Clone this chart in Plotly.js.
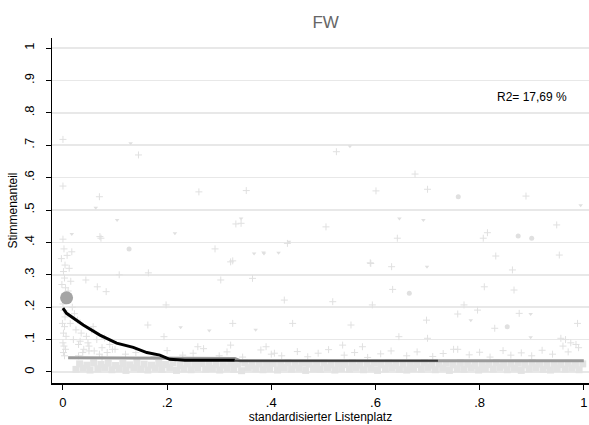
<!DOCTYPE html>
<html><head><meta charset="utf-8">
<script src="https://cdn.plot.ly/plotly-3.0.1.min.js"></script>
<style>html,body{margin:0;padding:0;background:#fff}#chart{width:589px;height:425px}</style>
</head><body><div id="chart"></div>
<script>
// ---- data ----
const yTickVals = [0,0.1,0.2,0.3,0.4,0.5,0.6,0.7,0.8,0.9,1];
const yTickText = ['0','.1','.2','.3','.4','.5','.6','.7','.8','.9','1'];
const xTickVals = [0,0.2,0.4,0.6,0.8,1];
const xTickText = ['0','.2','.4','.6','.8','1'];

const crossX = [0.0,0.145,0.0,0.07,0.261,0.352,0.332,0.073,0.292,0.326,0.108,0.164,0.017,0.525,0.676,0.7,0.601,0.889,0.505,0.642,0.807,0.815,0.948,0.831,0.953,0.59,0.631,0.863,0.071,0.342,0.322,0.431,0.066,0.083,0.044,0.198,0.163,0.326,0.303,0.364,0.425,0.441,0.194,0.259,0.322,0.39,0.406,0.591,0.633,0.518,0.594,0.809,0.866,0.77,0.796,0.758,0.876,0.988,0.553,0.698,0.829,0.645,0.7,0.956,0.537,0.575,0.758];
const crossY = [0.718,0.67,0.574,0.541,0.556,0.56,0.457,0.413,0.38,0.343,0.3,0.306,0.371,0.68,0.611,0.564,0.559,0.543,0.448,0.413,0.413,0.43,0.454,0.358,0.361,0.337,0.325,0.315,0.418,0.459,0.34,0.397,0.263,0.248,0.284,0.207,0.145,0.15,0.284,0.289,0.222,0.15,0.109,0.078,0.083,0.078,0.058,0.335,0.255,0.217,0.207,0.263,0.253,0.207,0.191,0.179,0.181,0.15,0.145,0.16,0.135,0.109,0.104,0.104,0.083,0.078,0.07];

const triX = [0.13,0.063,0.104,0.342,0.017,0.215,0.434,0.385,0.414,0.551,0.994,0.646,0.692,0.699,0.367,0.386,0.281,0.37,0.226,0.898,0.898,0.783];
const triY = [0.706,0.507,0.469,0.474,0.426,0.428,0.402,0.369,0.368,0.697,0.515,0.474,0.469,0.325,0.366,0.366,0.128,0.13,0.138,0.179,0.107,0.16];

const dotX = [0.759,0.874,0.665,0.127,0.9,0.853];
const dotY = [0.541,0.42,0.243,0.38,0.413,0.14];

const clusterX = [0.0,0.002,-0.003,0.004,0.001,0.003,-0.002,0.005,0.0,0.002,0.004,-0.001,0.003,0.001,0.006,0.0,0.002,0.005,0.001,0.003,0.008,0.012,0.015,0.01,0.018,0.022,0.014,0.025,0.02,0.03,0.028,0.035,0.04,0.033,0.045,0.05,0.038,0.055,0.06,0.048,0.065,0.07,0.075,0.058,0.085,0.09,0.08,0.095];
const clusterY = [0.41,0.38,0.35,0.33,0.31,0.29,0.27,0.26,0.21,0.19,0.17,0.15,0.14,0.12,0.11,0.09,0.08,0.07,0.06,0.05,0.36,0.32,0.28,0.25,0.2,0.18,0.15,0.13,0.1,0.085,0.16,0.12,0.07,0.095,0.11,0.08,0.06,0.13,0.065,0.09,0.1,0.055,0.075,0.14,0.06,0.085,0.105,0.07];

const bandAX = [0.025,0.039,0.052,0.067,0.08,0.094,0.108,0.121,0.136,0.149,0.163,0.177,0.19,0.205,0.218,0.232,0.246,0.259,0.274,0.287,0.301,0.315,0.328,0.343,0.356,0.37,0.384,0.397,0.412,0.425,0.439,0.453,0.466,0.481,0.494,0.508,0.522,0.535,0.55,0.563,0.577,0.591,0.604,0.619,0.632,0.646,0.66,0.673,0.688,0.701,0.715,0.729,0.742,0.757,0.77,0.784,0.798,0.811,0.826,0.839,0.853,0.867,0.88,0.895,0.908,0.922,0.936,0.949,0.964,0.977,0.991];
const bandAY = [0.008,0.012,0.006,0.01,0.014,0.007,0.011,0.005,0.013,0.009,0.006,0.012,0.008,0.014,0.005,0.01,0.007,0.013,0.009,0.011,0.006,0.012,0.008,0.004,0.013,0.01,0.007,0.011,0.006,0.014,0.009,0.012,0.005,0.01,0.008,0.013,0.006,0.011,0.009,0.014,0.007,0.012,0.005,0.01,0.013,0.008,0.006,0.011,0.009,0.014,0.007,0.012,0.005,0.01,0.008,0.013,0.006,0.011,0.009,0.014,0.007,0.012,0.005,0.01,0.013,0.008,0.006,0.011,0.009,0.012,0.007];
const bandBX = [0.032,0.046,0.059,0.073,0.087,0.101,0.115,0.128,0.142,0.156,0.17,0.184,0.197,0.211,0.225,0.239,0.253,0.266,0.28,0.294,0.308,0.322,0.335,0.349,0.363,0.377,0.391,0.404,0.418,0.432,0.446,0.46,0.473,0.487,0.501,0.515,0.529,0.542,0.556,0.57,0.584,0.598,0.611,0.625,0.639,0.653,0.667,0.68,0.694,0.708,0.722,0.736,0.749,0.763,0.777,0.791,0.805,0.818,0.832,0.846,0.86,0.874,0.887,0.901,0.915,0.929,0.943,0.956,0.97,0.984,0.998];
const bandBY = [0.025,0.021,0.028,0.023,0.027,0.02,0.026,0.022,0.029,0.024,0.021,0.027,0.023,0.028,0.02,0.025,0.022,0.026,0.029,0.023,0.021,0.027,0.024,0.028,0.02,0.025,0.022,0.026,0.023,0.029,0.021,0.027,0.024,0.02,0.028,0.022,0.026,0.023,0.029,0.021,0.025,0.027,0.022,0.028,0.02,0.024,0.026,0.023,0.029,0.021,0.025,0.027,0.022,0.028,0.024,0.02,0.026,0.023,0.029,0.021,0.025,0.027,0.022,0.028,0.024,0.02,0.026,0.023,0.027,0.021,0.025];
const bandCX = [0.03,0.05,0.075,0.1,0.12,0.14,0.175,0.2,0.23,0.25,0.27,0.3,0.315,0.345,0.38,0.4,0.42,0.45,0.47,0.49,0.51,0.54,0.56,0.585,0.61,0.63,0.66,0.68,0.71,0.73,0.75,0.78,0.8,0.82,0.845,0.86,0.88,0.9,0.92,0.94,0.96,0.975,0.99,0.965,0.985,0.97];
const bandCY = [0.05,0.065,0.045,0.07,0.055,0.06,0.048,0.066,0.052,0.058,0.072,0.05,0.062,0.046,0.068,0.055,0.05,0.063,0.047,0.058,0.069,0.052,0.06,0.045,0.056,0.065,0.05,0.062,0.048,0.057,0.07,0.053,0.061,0.046,0.066,0.052,0.059,0.05,0.067,0.055,0.08,0.09,0.075,0.1,0.085,0.062];

const bigDotX = [0.007];
const bigDotY = [0.229];

const meanX = [0.01,0.33,0.34,1.0];
const meanY = [0.044,0.042,0.035,0.035];

const fitX = [0.0,0.007,0.039,0.071,0.103,0.135,0.161,0.186,0.205,0.234,0.33];
const fitY = [0.197,0.181,0.145,0.114,0.089,0.076,0.06,0.052,0.039,0.036,0.036];
const fit2X = [0.33,0.72];
const fit2Y = [0.035,0.035];

const titleText = 'FW';
const xTitle = 'standardisierter Listenplatz';
const yTitle = 'Stimmenanteil';
const r2Text = 'R2= 17,69 %';

// ---- traces ----
const light = '#e0e0e0';
const traces = [
  {x: bandAX, y: bandAY, type: 'scatter', mode: 'markers', hoverinfo: 'skip',
   marker: {symbol: 'square', size: 7, color: '#e3e3e3'}},
  {x: bandBX, y: bandBY, type: 'scatter', mode: 'markers', hoverinfo: 'skip',
   marker: {symbol: 'square', size: 7, color: '#e3e3e3'}},
  {x: bandCX, y: bandCY, type: 'scatter', mode: 'markers', hoverinfo: 'skip',
   marker: {symbol: 'cross-thin', size: 5, color: light, line: {color: light, width: 1}}},
  {x: clusterX, y: clusterY, type: 'scatter', mode: 'markers', hoverinfo: 'skip',
   marker: {symbol: 'cross-thin', size: 5, color: light, line: {color: light, width: 1}}},
  {x: crossX, y: crossY, type: 'scatter', mode: 'markers', hoverinfo: 'skip',
   marker: {symbol: 'cross-thin', size: 5, color: light, line: {color: light, width: 1}}},
  {x: triX, y: triY, type: 'scatter', mode: 'markers', hoverinfo: 'skip',
   marker: {symbol: 'triangle-down', size: 4, color: light}},
  {x: dotX, y: dotY, type: 'scatter', mode: 'markers', hoverinfo: 'skip',
   marker: {symbol: 'circle', size: 5, color: light}},
  {x: meanX, y: meanY, type: 'scatter', mode: 'lines', hoverinfo: 'skip',
   line: {color: '#9a9a9a', width: 3}},
  {x: fit2X, y: fit2Y, type: 'scatter', mode: 'lines', hoverinfo: 'skip',
   line: {color: '#3a3a3a', width: 2}},
  {x: fitX, y: fitY, type: 'scatter', mode: 'lines', hoverinfo: 'skip',
   line: {color: '#000000', width: 3}},
  {x: bigDotX, y: bigDotY, type: 'scatter', mode: 'markers', hoverinfo: 'skip',
   marker: {symbol: 'circle', size: 13, color: '#a4a4a4'}}
];

const font = 'Liberation Sans, Arial, sans-serif';
const layout = {
  width: 589, height: 425,
  margin: {l: 52, r: 0, t: 38, b: 42, pad: 0},
  paper_bgcolor: '#fff', plot_bgcolor: '#fff',
  showlegend: false,
  font: {family: font, size: 12, color: '#000'},
  title: {text: titleText, x: 0.553, xanchor: 'center', y: 0.948, yanchor: 'middle',
          font: {family: font, size: 17, color: '#666'}},
  xaxis: {range: [-0.021, 1.01], showgrid: false, zeroline: false,
          showline: true, linecolor: '#000', linewidth: 1.5,
          ticks: 'outside', ticklen: 5, tickcolor: '#000', tickwidth: 1,
          tickvals: xTickVals, ticktext: xTickText, ticklabelstandoff: 2,
          tickfont: {family: font, size: 13, color: '#000'},
          title: {text: xTitle, standoff: 0, font: {family: font, size: 12, color: '#000'}}},
  yaxis: {range: [-0.034, 1.031], showgrid: true, gridcolor: '#e8e8e8', gridwidth: 1.5,
          zeroline: false, showline: true, linecolor: '#000', linewidth: 1.5,
          ticks: 'outside', ticklen: 5, tickcolor: '#000', tickwidth: 1,
          tickvals: yTickVals, ticktext: yTickText, tickangle: -90, ticklabelstandoff: 6,
          tickfont: {family: font, size: 13, color: '#000'},
          title: {text: yTitle, standoff: 2, font: {family: font, size: 12, color: '#000'}}},
  annotations: [{x: 0.9, y: 0.849, xref: 'x', yref: 'y', text: r2Text, showarrow: false,
                 xanchor: 'center', yanchor: 'middle', font: {family: font, size: 12, color: '#000'}}]
};

Plotly.newPlot('chart', traces, layout, {staticPlot: true, displayModeBar: false});
</script>
</body></html>
